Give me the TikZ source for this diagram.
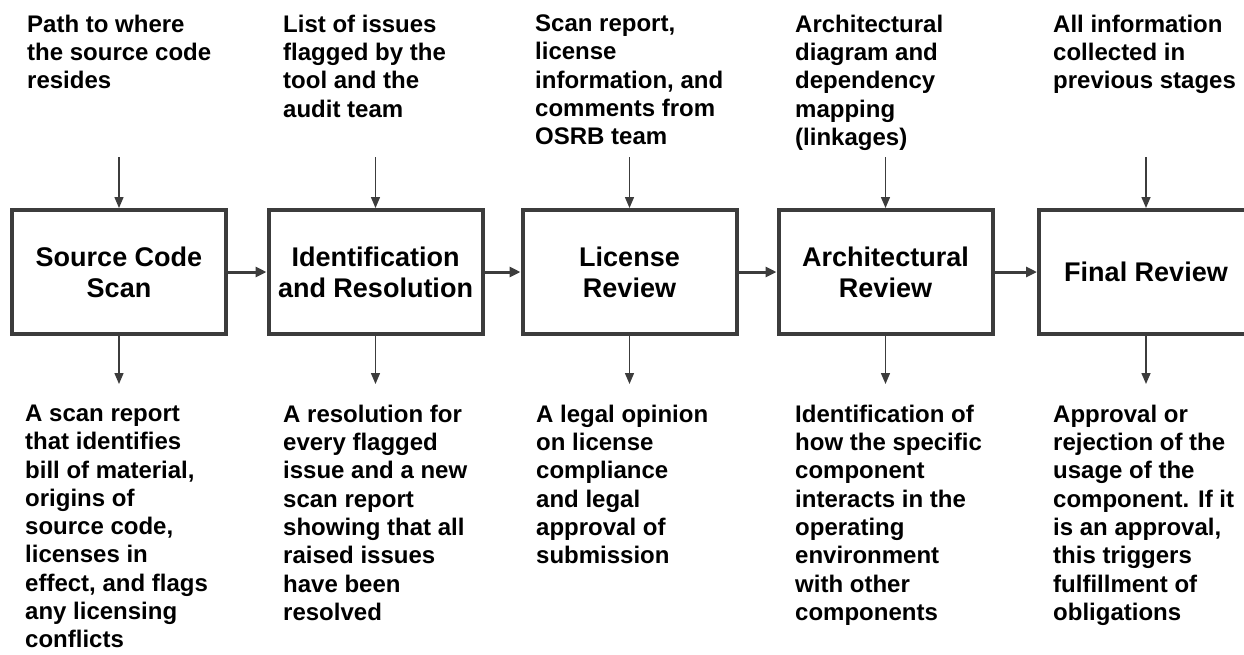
\documentclass[tikz,border=0pt]{standalone}
\usepackage{fontspec}
\setmainfont{Liberation Sans}
\usetikzlibrary{arrows.meta}
\definecolor{edge}{HTML}{3C3C3C}
\begin{document}
\begin{tikzpicture}[x=1pt,y=-1pt,
  stage/.style={draw=edge,line width=4pt,minimum width=214pt,minimum height=124pt,
    inner sep=0pt,align=center,font=\fontsize{27}{31}\selectfont\bfseries},
  note/.style={anchor=north west,inner sep=0pt,align=left,
    font=\fontsize{24}{28.3}\selectfont\bfseries},
  feed/.style={draw=edge,line width=1.4pt,-{Triangle[length=11pt,width=9pt]}},
  flow/.style={draw=edge,line width=3pt,-{Triangle[length=11pt,width=10pt]}}]
\useasboundingbox[fill=white] (0,0) rectangle (1244,654);

% process stages
\node[stage] (s1) at (119,272)   {Source Code\\Scan};
\node[stage] (s2) at (375.5,272) {Identification\\and Resolution};
\node[stage] (s3) at (629.5,272) {License\\Review};
\node[stage] (s4) at (885.5,272) {Architectural\\Review};
\node[stage] (s5) at (1146,272)  {Final Review};

% inputs
\node[note] (i1) at (27,14.7)   {Path to where\\the source code\\resides};
\node[note] (i2) at (283,14.7)  {List of issues\\flagged by the\\tool and the\\audit team};
\node[note] (i3) at (535,14.7)  {Scan report,\\license\\information, and\\comments from\\OSRB team};
\node[note] (i4) at (795,14.7)  {Architectural\\diagram and\\dependency\\mapping\\(linkages)};
\node[note] (i5) at (1053,14.7) {All information\\collected in\\previous stages};

% outputs
\node[note] (o1) at (25,404.7)   {A scan report\\that identifies\\bill of material,\\origins of\\source code,\\licenses in\\effect, and flags\\any licensing\\conflicts};
\node[note] (o2) at (283,404.7)  {A resolution for\\every flagged\\issue and a new\\scan report\\showing that all\\raised issues\\have been\\resolved};
\node[note] (o3) at (536,404.7)  {A legal opinion\\on license\\compliance\\and legal\\approval of\\submission};
\node[note] (o4) at (795,404.7)  {Identification of\\how the specific\\component\\interacts in the\\operating\\environment\\with other\\components};
\node[note] (o5) at (1053,404.7) {Approval or\\rejection of the\\usage of the\\component. If it\\is an approval,\\this triggers\\fulfillment of\\obligations};

% arrow ends above and below each stage
\foreach \s/\x in {1/119,2/375.5,3/629.5,4/885.5,5/1146} {
  \coordinate (in\s) at (\x,157);
  \coordinate (out\s) at (\x,384);
  \draw[feed] (in\s) -- (s\s.north);
  \draw[feed] (s\s.south) -- (out\s);
}

% flow between stages
\draw[flow] (s1) -- (s2);
\draw[flow] (s2) -- (s3);
\draw[flow] (s3) -- (s4);
\draw[flow] (s4) -- (s5);
\end{tikzpicture}
\end{document}
